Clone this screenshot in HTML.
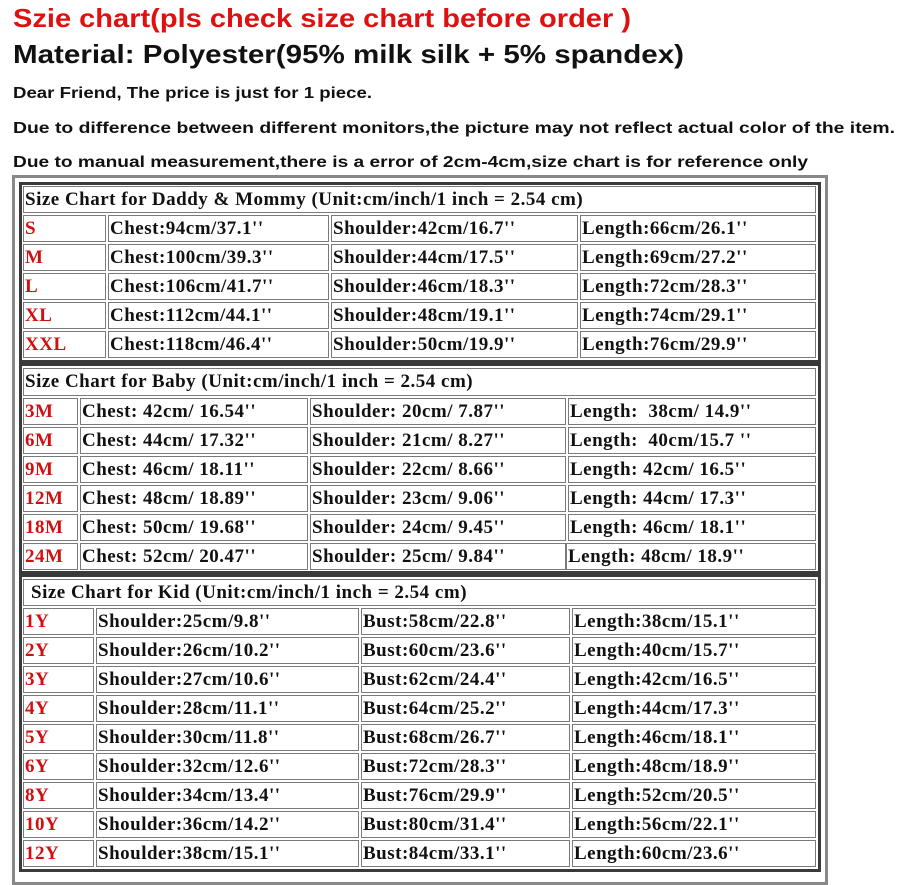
<!DOCTYPE html>
<html><head><meta charset="utf-8"><style>
body{margin:0;width:904px;height:877px;background:#fff;position:relative;overflow:hidden}
.c{position:absolute;border:1px solid #7a7a7a;box-sizing:border-box;font:bold 19px "Liberation Serif",serif;letter-spacing:0.5px;color:#111;line-height:25px;padding-left:1px;white-space:nowrap;overflow:hidden}
.r{color:#d01010}
.box{position:absolute;border:3px solid #3a3a3a;box-sizing:border-box}
svg text{font-family:"Liberation Sans",sans-serif;font-weight:bold}
</style></head><body>
<svg width="904" height="177" style="position:absolute;left:0;top:0">
<text x="13" y="27" font-size="26" fill="#e01010" textLength="618" lengthAdjust="spacingAndGlyphs">Szie chart(pls check size chart before order )</text>
<text x="13" y="63" font-size="26" fill="#111" textLength="671" lengthAdjust="spacingAndGlyphs">Material: Polyester(95% milk silk  + 5% spandex)</text>
<text x="13" y="98" font-size="16" fill="#111" textLength="359" lengthAdjust="spacingAndGlyphs">Dear Friend, The price is just for 1 piece.</text>
<text x="13" y="133" font-size="16" fill="#111" textLength="882" lengthAdjust="spacingAndGlyphs">Due to difference between different monitors,the picture may not reflect actual color of the item.</text>
<text x="13" y="167" font-size="16" fill="#111" textLength="795" lengthAdjust="spacingAndGlyphs">Due to manual measurement,there is a error of 2cm-4cm,size chart is for reference only</text>
</svg>
<div class="box" style="left:12px;top:175px;width:816px;height:710px;border:3px solid #888"></div>
<div class="box" style="left:19px;top:182px;width:802px;height:181px"></div>
<div class="box" style="left:19px;top:363px;width:802px;height:211px"></div>
<div class="box" style="left:19px;top:574px;width:802px;height:298px"></div>

<div class="c" style="left:23px;top:186px;width:793px;height:27px">Size Chart for Daddy &amp; Mommy (Unit:cm/inch/1 inch = 2.54 cm)</div>
<div class="c r" style="left:23px;top:215px;width:83px;height:27px">S</div><div class="c" style="left:108px;top:215px;width:221px;height:27px">Chest:94cm/37.1''</div><div class="c" style="left:331px;top:215px;width:247px;height:27px">Shoulder:42cm/16.7''</div><div class="c" style="left:580px;top:215px;width:236px;height:27px">Length:66cm/26.1''</div>
<div class="c r" style="left:23px;top:244px;width:83px;height:27px">M</div><div class="c" style="left:108px;top:244px;width:221px;height:27px">Chest:100cm/39.3''</div><div class="c" style="left:331px;top:244px;width:247px;height:27px">Shoulder:44cm/17.5''</div><div class="c" style="left:580px;top:244px;width:236px;height:27px">Length:69cm/27.2''</div>
<div class="c r" style="left:23px;top:273px;width:83px;height:27px">L</div><div class="c" style="left:108px;top:273px;width:221px;height:27px">Chest:106cm/41.7''</div><div class="c" style="left:331px;top:273px;width:247px;height:27px">Shoulder:46cm/18.3''</div><div class="c" style="left:580px;top:273px;width:236px;height:27px">Length:72cm/28.3''</div>
<div class="c r" style="left:23px;top:302px;width:83px;height:27px">XL</div><div class="c" style="left:108px;top:302px;width:221px;height:27px">Chest:112cm/44.1''</div><div class="c" style="left:331px;top:302px;width:247px;height:27px">Shoulder:48cm/19.1''</div><div class="c" style="left:580px;top:302px;width:236px;height:27px">Length:74cm/29.1''</div>
<div class="c r" style="left:23px;top:331px;width:83px;height:27px">XXL</div><div class="c" style="left:108px;top:331px;width:221px;height:27px">Chest:118cm/46.4''</div><div class="c" style="left:331px;top:331px;width:247px;height:27px">Shoulder:50cm/19.9''</div><div class="c" style="left:580px;top:331px;width:236px;height:27px">Length:76cm/29.9''</div>

<div class="c" style="left:23px;top:368px;width:793px;height:28px">Size Chart for Baby (Unit:cm/inch/1 inch = 2.54 cm)</div>
<div class="c r" style="left:23px;top:398px;width:55px;height:27px">3M</div><div class="c" style="left:80px;top:398px;width:228px;height:27px">Chest: 42cm/ 16.54''</div><div class="c" style="left:310px;top:398px;width:256px;height:27px">Shoulder: 20cm/ 7.87''</div><div class="c" style="left:568px;top:398px;width:248px;height:27px">Length:&nbsp; 38cm/ 14.9''</div>
<div class="c r" style="left:23px;top:427px;width:55px;height:27px">6M</div><div class="c" style="left:80px;top:427px;width:228px;height:27px">Chest: 44cm/ 17.32''</div><div class="c" style="left:310px;top:427px;width:256px;height:27px">Shoulder: 21cm/ 8.27''</div><div class="c" style="left:568px;top:427px;width:248px;height:27px">Length:&nbsp; 40cm/15.7 ''</div>
<div class="c r" style="left:23px;top:456px;width:55px;height:27px">9M</div><div class="c" style="left:80px;top:456px;width:228px;height:27px">Chest: 46cm/ 18.11''</div><div class="c" style="left:310px;top:456px;width:256px;height:27px">Shoulder: 22cm/ 8.66''</div><div class="c" style="left:568px;top:456px;width:248px;height:27px">Length: 42cm/ 16.5''</div>
<div class="c r" style="left:23px;top:485px;width:55px;height:27px">12M</div><div class="c" style="left:80px;top:485px;width:228px;height:27px">Chest: 48cm/ 18.89''</div><div class="c" style="left:310px;top:485px;width:256px;height:27px">Shoulder: 23cm/ 9.06''</div><div class="c" style="left:568px;top:485px;width:248px;height:27px">Length: 44cm/ 17.3''</div>
<div class="c r" style="left:23px;top:514px;width:55px;height:27px">18M</div><div class="c" style="left:80px;top:514px;width:228px;height:27px">Chest: 50cm/ 19.68''</div><div class="c" style="left:310px;top:514px;width:256px;height:27px">Shoulder: 24cm/ 9.45''</div><div class="c" style="left:568px;top:514px;width:248px;height:27px">Length: 46cm/ 18.1''</div>
<div class="c r" style="left:23px;top:543px;width:55px;height:27px">24M</div><div class="c" style="left:80px;top:543px;width:228px;height:27px">Chest: 52cm/ 20.47''</div><div class="c" style="left:310px;top:543px;width:256px;height:27px">Shoulder: 25cm/ 9.84''</div><div class="c" style="left:566px;top:543px;width:250px;height:27px">Length: 48cm/ 18.9''</div>

<div class="c" style="left:23px;top:579px;width:793px;height:27px;padding-left:7px">Size Chart for Kid (Unit:cm/inch/1 inch = 2.54 cm)</div>
<div class="c r" style="left:23px;top:608px;width:71px;height:27px">1Y</div><div class="c" style="left:96px;top:608px;width:263px;height:27px">Shoulder:25cm/9.8''</div><div class="c" style="left:361px;top:608px;width:209px;height:27px">Bust:58cm/22.8''</div><div class="c" style="left:572px;top:608px;width:244px;height:27px">Length:38cm/15.1''</div>
<div class="c r" style="left:23px;top:637px;width:71px;height:27px">2Y</div><div class="c" style="left:96px;top:637px;width:263px;height:27px">Shoulder:26cm/10.2''</div><div class="c" style="left:361px;top:637px;width:209px;height:27px">Bust:60cm/23.6''</div><div class="c" style="left:572px;top:637px;width:244px;height:27px">Length:40cm/15.7''</div>
<div class="c r" style="left:23px;top:666px;width:71px;height:27px">3Y</div><div class="c" style="left:96px;top:666px;width:263px;height:27px">Shoulder:27cm/10.6''</div><div class="c" style="left:361px;top:666px;width:209px;height:27px">Bust:62cm/24.4''</div><div class="c" style="left:572px;top:666px;width:244px;height:27px">Length:42cm/16.5''</div>
<div class="c r" style="left:23px;top:695px;width:71px;height:27px">4Y</div><div class="c" style="left:96px;top:695px;width:263px;height:27px">Shoulder:28cm/11.1''</div><div class="c" style="left:361px;top:695px;width:209px;height:27px">Bust:64cm/25.2''</div><div class="c" style="left:572px;top:695px;width:244px;height:27px">Length:44cm/17.3''</div>
<div class="c r" style="left:23px;top:724px;width:71px;height:27px">5Y</div><div class="c" style="left:96px;top:724px;width:263px;height:27px">Shoulder:30cm/11.8''</div><div class="c" style="left:361px;top:724px;width:209px;height:27px">Bust:68cm/26.7''</div><div class="c" style="left:572px;top:724px;width:244px;height:27px">Length:46cm/18.1''</div>
<div class="c r" style="left:23px;top:753px;width:71px;height:27px">6Y</div><div class="c" style="left:96px;top:753px;width:263px;height:27px">Shoulder:32cm/12.6''</div><div class="c" style="left:361px;top:753px;width:209px;height:27px">Bust:72cm/28.3''</div><div class="c" style="left:572px;top:753px;width:244px;height:27px">Length:48cm/18.9''</div>
<div class="c r" style="left:23px;top:782px;width:71px;height:27px">8Y</div><div class="c" style="left:96px;top:782px;width:263px;height:27px">Shoulder:34cm/13.4''</div><div class="c" style="left:361px;top:782px;width:209px;height:27px">Bust:76cm/29.9''</div><div class="c" style="left:572px;top:782px;width:244px;height:27px">Length:52cm/20.5''</div>
<div class="c r" style="left:23px;top:811px;width:71px;height:27px">10Y</div><div class="c" style="left:96px;top:811px;width:263px;height:27px">Shoulder:36cm/14.2''</div><div class="c" style="left:361px;top:811px;width:209px;height:27px">Bust:80cm/31.4''</div><div class="c" style="left:572px;top:811px;width:244px;height:27px">Length:56cm/22.1''</div>
<div class="c r" style="left:23px;top:840px;width:71px;height:27px">12Y</div><div class="c" style="left:96px;top:840px;width:263px;height:27px">Shoulder:38cm/15.1''</div><div class="c" style="left:361px;top:840px;width:209px;height:27px">Bust:84cm/33.1''</div><div class="c" style="left:572px;top:840px;width:244px;height:27px">Length:60cm/23.6''</div>
</body></html>
